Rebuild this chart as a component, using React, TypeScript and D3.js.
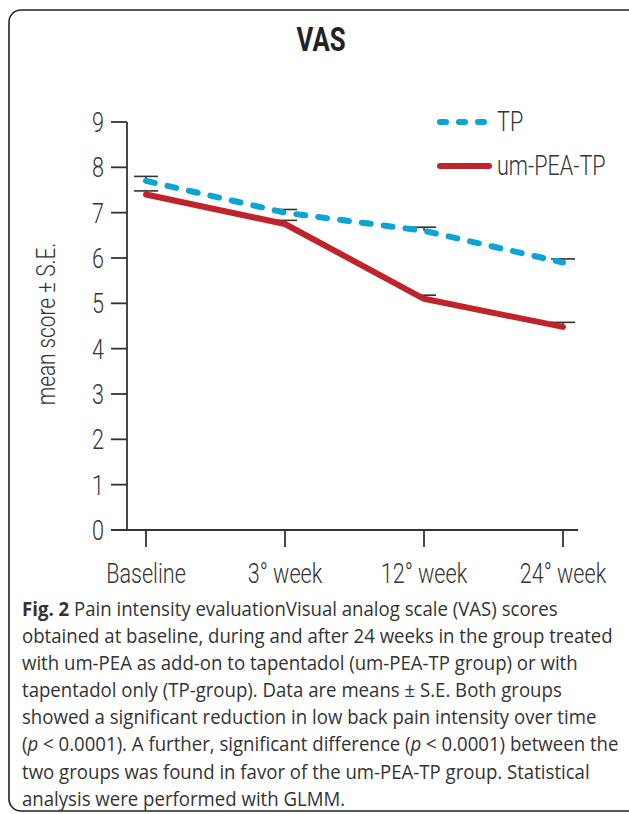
import React from 'react';
import * as d3 from 'd3';

const timepoints = ['Baseline', '3° week', '12° week', '24° week'];
const tpMeans = [7.7, 7.0, 6.6, 5.9];
const tpSE = [0.1, 0.07, 0.08, 0.08];
const umMeans = [7.4, 6.75, 5.1, 4.48];
const umSE = [0.08, 0.08, 0.08, 0.1];
const yTicks = [0, 1, 2, 3, 4, 5, 6, 7, 8, 9];

const captionLines = [
  [{ t: 'Fig. 2', b: true }, { t: ' Pain intensity evaluationVisual analog scale (VAS) scores' }],
  [{ t: 'obtained at baseline, during and after 24 weeks in the group treated' }],
  [{ t: 'with um-PEA as add-on to tapentadol (um-PEA-TP group) or with' }],
  [{ t: 'tapentadol only (TP-group). Data are means ± S.E. Both groups' }],
  [{ t: 'showed a significant reduction in low back pain intensity over time' }],
  [{ t: '(' }, { t: 'p', i: true }, { t: ' < 0.0001). A further, significant difference (' }, { t: 'p', i: true }, { t: ' < 0.0001) between the' }],
  [{ t: 'two groups was found in favor of the um-PEA-TP group. Statistical' }],
  [{ t: 'analysis were performed with GLMM.' }],
];

const W = 629;
const H = 814;
const cond = 'Roboto, sans-serif';

// condensed text: plain Roboto squeezed horizontally
function NText(props: any) {
  const { x, y, sx = 0.8, children, ...rest } = props;
  return (
    <g transform={`translate(${x},${y}) scale(${sx},1)`}>
      <text x={0} y={0} fontFamily={cond} fill="#333" {...rest}>{children}</text>
    </g>
  );
}

export default function App() {
  const x = d3.scalePoint<string>().domain(timepoints).range([146, 563]);
  const y = d3.scaleLinear().domain([0, 9]).range([530, 122]);

  const line = d3.line<number>()
    .x((d, i) => x(timepoints[i]) as number)
    .y(d => y(d));

  const errBars = (means: number[], se: number[], key: string) =>
    means.map((m, i) => {
      const cx = x(timepoints[i]) as number;
      const top = y(m + se[i]);
      return (
        <g key={key + i} stroke="#333" strokeWidth={1.6}>
          <line x1={cx} x2={cx} y1={y(m)} y2={top} />
          <line x1={cx - 12} x2={cx + 12} y1={top} y2={top} />
        </g>
      );
    });

  return (
    <svg width={W} height={H} style={{ position: 'absolute', left: 0, top: 0, background: '#fff' }}>
      <rect x={9} y={10} width={640} height={801} rx={12} fill="none" stroke="#222" strokeWidth={1.6} />

      <NText x={321} y={51} sx={0.78} textAnchor="middle" fontWeight="bold" fontSize={33} fill="#222">VAS</NText>

      {/* y axis */}
      <line x1={127} x2={127} y1={y(9)} y2={y(0)} stroke="#333" strokeWidth={1.8} />
      {yTicks.map(t => (
        <g key={'y' + t}>
          <line x1={111} x2={127} y1={y(t)} y2={y(t)} stroke="#333" strokeWidth={1.8} />
          <NText x={104} y={y(t) + 10} sx={0.8} textAnchor="end" fontWeight={300} fontSize={27}>{t}</NText>
        </g>
      ))}

      {/* x axis */}
      <line x1={111} x2={578} y1={y(0)} y2={y(0)} stroke="#333" strokeWidth={1.8} />
      {timepoints.map(c => (
        <g key={c}>
          <line x1={x(c)} x2={x(c)} y1={y(0)} y2={y(0) + 17} stroke="#333" strokeWidth={1.8} />
          <NText x={x(c)} y={583} sx={0.8} textAnchor="middle" fontWeight={300} fontSize={27}>{c}</NText>
        </g>
      ))}

      <g transform="translate(55,324) rotate(-90) scale(0.8,1)">
        <text x={0} y={0} textAnchor="middle" fontFamily={cond} fontWeight={300} fontSize={26} fill="#333">mean score ± S.E.</text>
      </g>

      {errBars(tpMeans, tpSE, 'tp')}
      {errBars(umMeans, umSE, 'um')}

      <path d={line(umMeans) || ''} fill="none" stroke="#c0242a" strokeWidth={6} strokeLinecap="round" strokeLinejoin="round" />
      <path d={line(tpMeans) || ''} fill="none" stroke="#0aa4d8" strokeWidth={6} strokeLinecap="round" strokeDasharray="9 13" />

      {/* legend */}
      <line x1={440} x2={489} y1={122} y2={122} stroke="#0aa4d8" strokeWidth={6} strokeLinecap="round" strokeDasharray="6 13" />
      <NText x={497} y={131} sx={0.8} fontWeight={300} fontSize={27}>TP</NText>
      <line x1={440} x2={489} y1={166} y2={166} stroke="#c0242a" strokeWidth={6} strokeLinecap="round" />
      <NText x={497} y={175} sx={0.8} fontWeight={300} fontSize={27}>um-PEA-TP</NText>

      {/* caption */}
      <g transform="translate(22,0) scale(0.955,1)">
        {captionLines.map((ln, li) => (
          <text key={'c' + li} x={0} y={616 + li * 27.1} fontFamily='"Open Sans", sans-serif' fontSize={19.5} fill="#333">
            {ln.map((s: any, si) => (
              <tspan key={si} fontWeight={s.b ? 'bold' : 'normal'} fontStyle={s.i ? 'italic' : 'normal'}>{s.t}</tspan>
            ))}
          </text>
        ))}
      </g>
    </svg>
  );
}
